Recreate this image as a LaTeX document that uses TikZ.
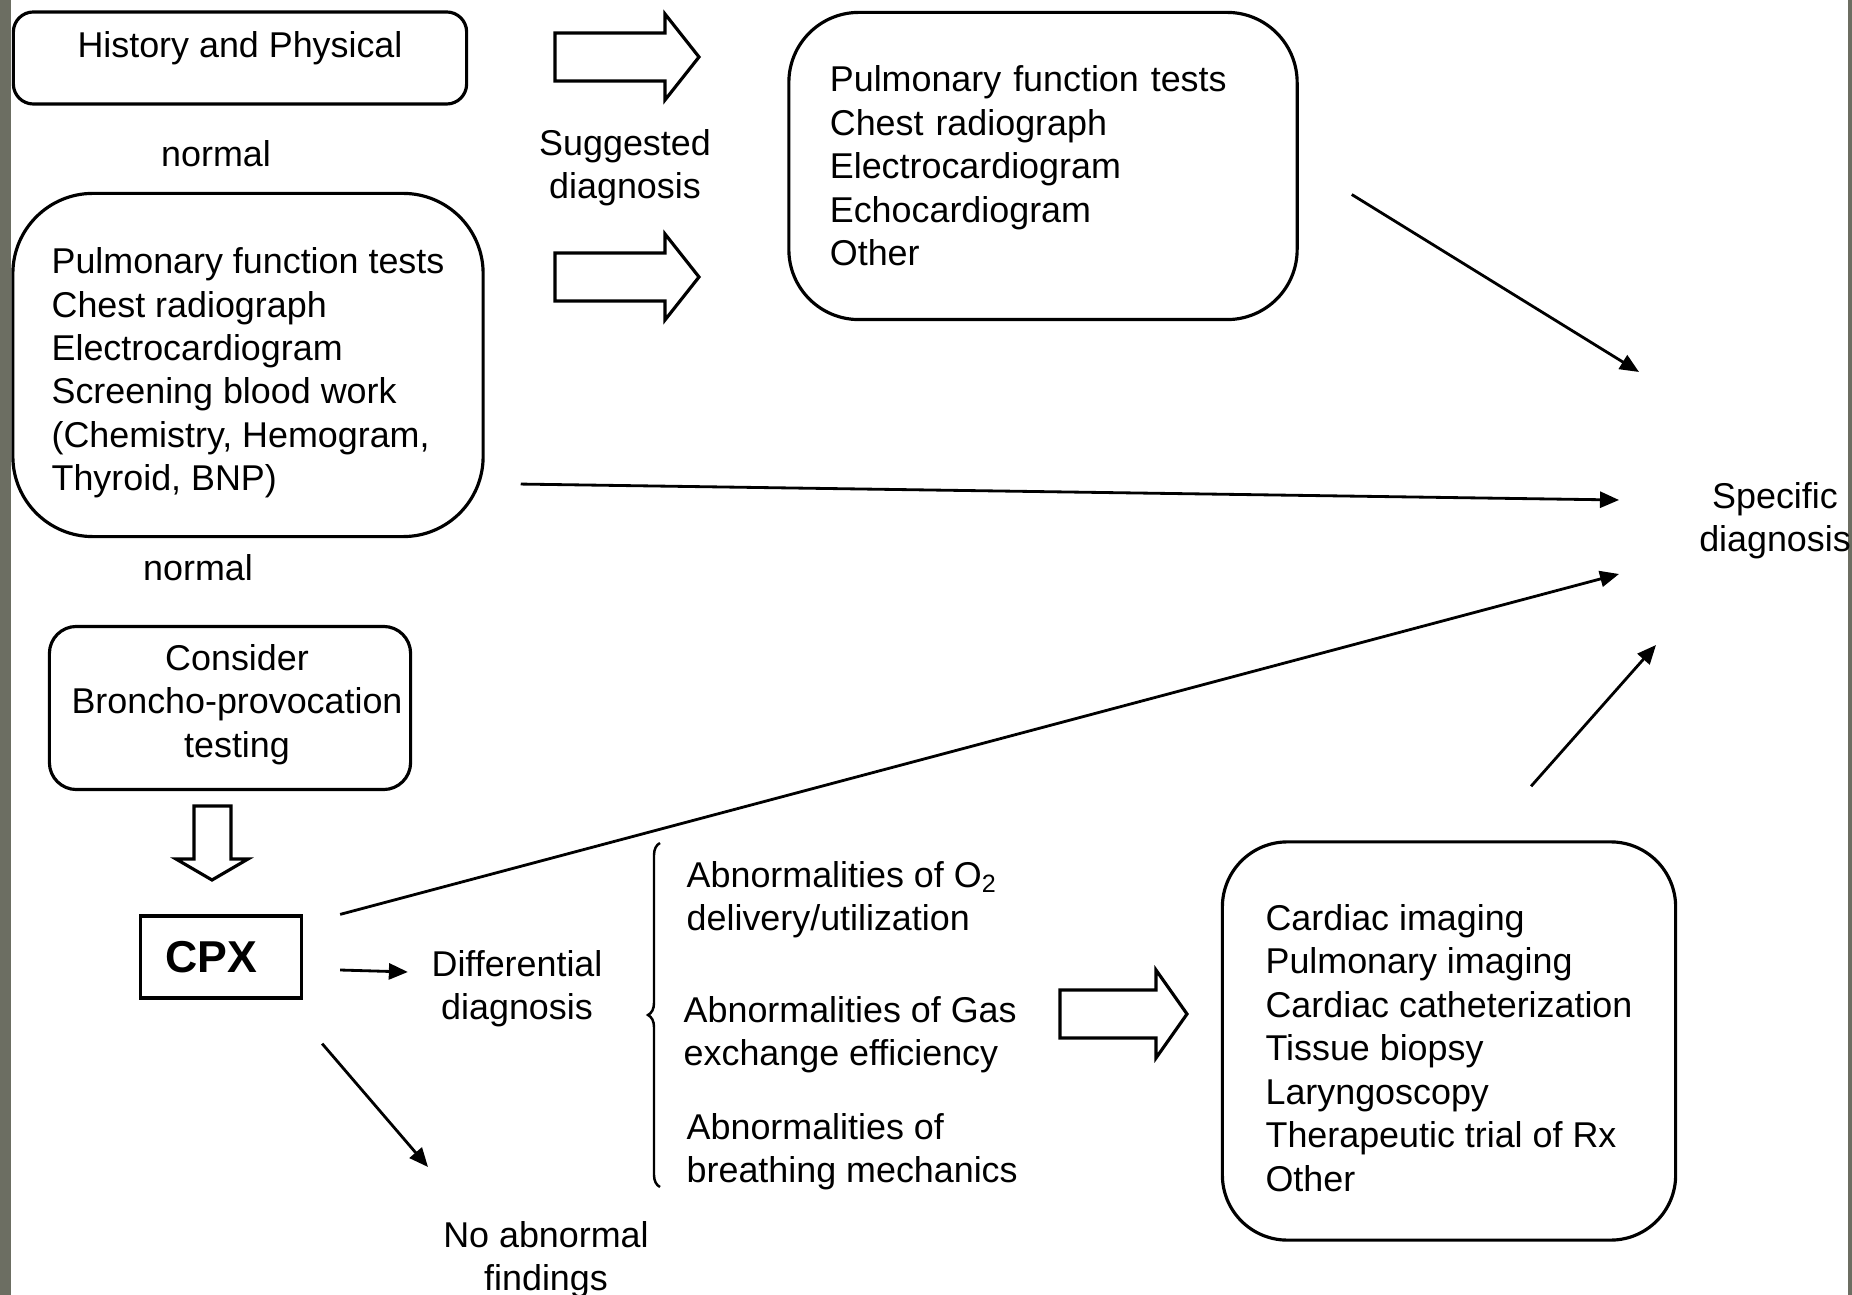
\documentclass[tikz,border=0pt]{standalone}
\usepackage{fontspec}
\setmainfont{Liberation Sans}
\usetikzlibrary{arrows.meta,positioning,decorations.pathreplacing}
\definecolor{edgegray}{RGB}{108,110,98}

\begin{document}
\begin{tikzpicture}[
    x=0.01cm,y=-0.01cm,
    txt/.style={font=\fontsize{10.2}{12.35}\selectfont,align=center,inner sep=0pt},
    rbox/.style={rectangle,draw,line width=0.9pt,
                 font=\fontsize{10.2}{12.35}\selectfont,align=left,inner sep=0pt},
    arr/.style={-{Triangle[length=0.19cm,width=0.16cm]},line width=0.8pt},
    blk/.style={draw,line width=0.9pt,fill=white,line join=miter}
  ]
    \fill[white] (0,0) rectangle (1852,1295);
    \useasboundingbox (0,0) rectangle (1852,1295);
    \fill[edgegray] (0,0) rectangle (11,1295);
    \fill[edgegray] (1848,0) rectangle (1852,1295);

    \node[rbox,rounded corners=0.2cm,minimum width=4.53cm,minimum height=0.92cm,
          align=center,text height=0.25cm,text depth=0.25cm] (hp) at (240,58) {History and Physical};
    \node[txt] (n1) at (216,154) {normal};
    \node[rbox,rounded corners=0.8cm,minimum width=4.70cm,minimum height=3.43cm] (tests) at (248,365) {
      \rule{0pt}{0.42cm}Pulmonary function tests\\
      Chest radiograph\\
      Electrocardiogram\\
      Screening blood work\\
      (Chemistry, Hemogram,\\
      Thyroid, BNP)
    };
    \node[txt] (n2) at (198,568) {normal};
    \node[rbox,rounded corners=0.27cm,minimum width=3.61cm,minimum height=1.63cm,
          align=center] (bpt) at (230,708) {
      \hspace*{0.14cm}Consider\\
      \hspace*{0.14cm}Broncho-provocation\\
      \hspace*{0.14cm}testing\rule[-0.14cm]{0pt}{0pt}
    };
    \node[rectangle,draw,line width=0.9pt,minimum width=1.61cm,minimum height=0.82cm,
          font=\fontsize{12.7}{15}\selectfont\bfseries] (cpx) at (221,957) {CPX\hspace*{0.2cm}};

    \node[txt] (sugg) at (625,168) {Suggested\\diagnosis};
    \node[rbox,rounded corners=0.7cm,text width=4.26cm,inner xsep=0.41cm,
          minimum height=3.07cm] (tests2) at (1043,166) {
      Pulmonary function tests\\
      Chest radiograph\\
      Electrocardiogram\\
      Echocardiogram\\
      Other
    };
    \node[txt] (sd) at (1775,521) {Specific\\diagnosis};

    \node[txt] (diff) at (517,989) {Differential\\diagnosis};
    \node[txt] (noab) at (546,1260) {No abnormal\\findings};
    \node[txt,align=left,anchor=west] (ab1) at (686,900) {Abnormalities of O\textsubscript{2}\\delivery/utilization};
    \node[txt,align=left,anchor=west] (ab2) at (683,1035) {Abnormalities of Gas\\exchange efficiency};
    \node[txt,align=left,anchor=west] (ab3) at (686,1152) {Abnormalities of\\breathing mechanics};
    \node[rbox,rounded corners=0.65cm,minimum width=4.53cm,minimum height=3.98cm] (tests3) at (1449,1041) {
      \rule{0pt}{0.40cm}Cardiac imaging\\
      Pulmonary imaging\\
      Cardiac catheterization\hspace*{0.12cm}\\
      Tissue biopsy\\
      Laryngoscopy\\
      Therapeutic trial of Rx\\
      Other
    };

    \draw[line width=0.7pt,decorate,decoration={brace,amplitude=0.12cm}] (660,1187) -- (660,843);

    \draw[blk] (555,33) -- (665,33) -- (665,14) -- (699,57) -- (665,100) -- (665,81) -- (555,81) -- cycle;
    \draw[blk] (555,253) -- (665,253) -- (665,234) -- (699,277) -- (665,320) -- (665,301) -- (555,301) -- cycle;
    \draw[blk] (194,806) -- (231,806) -- (231,859) -- (248,859) -- (212,880) -- (176,859) -- (194,859) -- cycle;
    \draw[blk] (1060,990) -- (1156,990) -- (1156,970) -- (1187,1014) -- (1156,1058) -- (1156,1038) -- (1060,1038) -- cycle;

    \coordinate[below right=0.285cm and 0.53cm of tests2.east] (t1);
    \coordinate[below right=1.19cm and 0.36cm of tests.east] (t2);
    \coordinate[right=0.37cm of cpx.north east] (t3);
    \coordinate[above right=0.54cm and 0.82cm of tests3.north] (t4);
    \coordinate[below right=0.13cm and 0.37cm of cpx.east] (t5);
    \coordinate[above left=0.17cm and 0.23cm of diff.west] (h5);
    \coordinate[below right=0.44cm and 0.19cm of cpx.south east] (t6);
    \coordinate (h1) at (1639,372);
    \coordinate (h2) at (1619,500);
    \coordinate (h3) at (1619,574);
    \coordinate (h4) at (1656,645);
    \coordinate (h6) at (428,1167);

    \draw[arr] (t1)--(h1);
    \draw[arr] (t2)--(h2);
    \draw[arr] (t3)--(h3);
    \draw[arr] (t4)--(h4);
    \draw[arr] (t5)--(h5);
    \draw[arr] (t6)--(h6);
  \end{tikzpicture}
\end{document}
